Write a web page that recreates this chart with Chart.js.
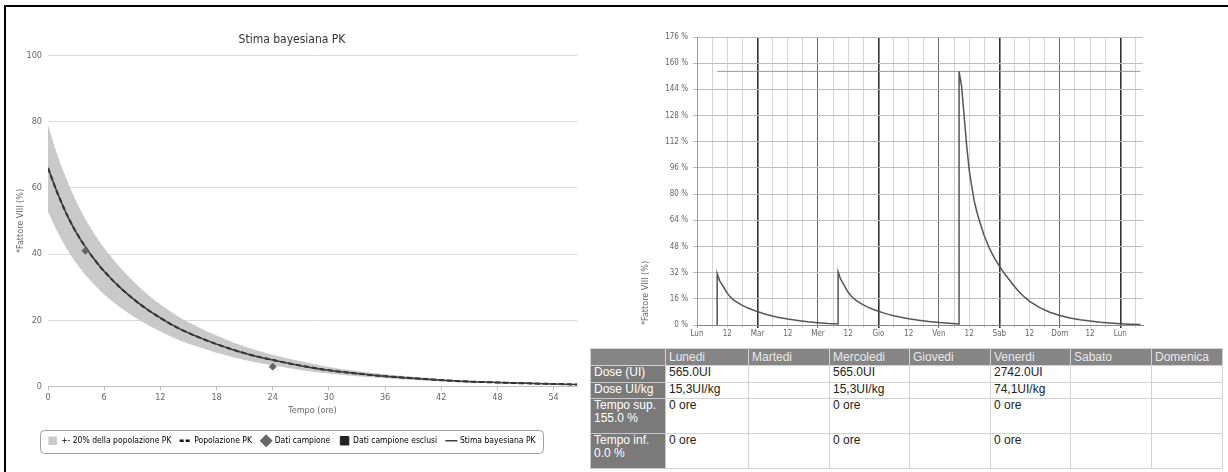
<!DOCTYPE html>
<html>
<head>
<meta charset="utf-8">
<script src="https://cdn.jsdelivr.net/npm/chart.js@4.4.0/dist/chart.umd.min.js"></script>
<style>
    body { margin: 0; background: #fff; width: 1228px; height: 472px; overflow: hidden; position: relative; }
    #cornice { position: absolute; left: 4px; top: 5px; width: 1230px; height: 480px; border-left: 2px solid #000; border-top: 2px solid #000; }
    #pkChart { position: absolute; left: 7px; top: 8px; }
    #settimanaChart { position: absolute; left: 600px; top: 8px; }
    #tabella { position: absolute; left: 590px; top: 348px; width: 632px; border-collapse: collapse; table-layout: fixed;
               font-family: "Liberation Sans", Arial, sans-serif; font-size: 12px; color: #222; }
    #tabella th, #tabella td { border: 1px solid #d2d2d2; padding: 0 3px; text-align: left; vertical-align: top;
               font-weight: normal; line-height: 13px; overflow: hidden; white-space: normal; }
    #tabella tr.testa th { background: #858585; color: #e8e8e8; height: 16px; line-height: 16px; }
    #tabella th.riga { background: #7a7a7a; color: #fff; border-color: #c8c8c8; }
</style>
</head>
<body>
<div id="cornice"></div>
<canvas id="pkChart" width="583" height="462"></canvas>
<canvas id="settimanaChart" width="622" height="340"></canvas>
<table id="tabella"></table>

<script>
// --- Stima bayesiana PK (grafico a sinistra) ---
const pkOre = [0, 1, 2, 3, 4, 5, 6, 8, 10, 12, 14, 16, 18, 20, 22, 24, 27, 30, 33, 36, 40, 44, 48, 52, 56.5];
const popolazionePK = [66, 58.5, 52, 46.6, 42.1, 38.2, 34.8, 29.1, 24.5, 20.7, 17.5, 15, 12.8, 10.9, 9.3, 8, 6.3, 4.9, 3.9, 3.1, 2.3, 1.6, 1.2, 0.9, 0.6];
const stimaBayesiana = [66, 58.5, 52, 46.6, 42.1, 38.2, 34.8, 29.1, 24.5, 20.7, 17.5, 15, 12.8, 10.9, 9.3, 8, 6.3, 4.9, 3.9, 3.1, 2.3, 1.6, 1.2, 0.9, 0.6];
const bandaAlta = [79, 70, 62.5, 56, 50.5, 45.8, 41.8, 35, 29.4, 24.8, 21, 18, 15.4, 13.1, 11.2, 9.6, 7.6, 5.9, 4.7, 3.7, 2.7, 1.9, 1.4, 1.1, 0.7];
const bandaBassa = [52.8, 46.8, 41.6, 37.3, 33.7, 30.6, 27.8, 23.3, 19.6, 16.6, 14, 12, 10.2, 8.7, 7.4, 6.4, 5, 3.9, 3.1, 2.5, 1.8, 1.3, 1, 0.7, 0.5];
const campioneOre = [4, 24];
const campioneValori = [41, 6];

// --- Profilo settimanale (grafico a destra), ore dal lunedi 0:00 ---
const settimanaOre = [8, 8, 9, 10, 11, 12, 13, 14, 15, 16, 18, 20, 22, 24, 26, 28, 30, 32, 36, 40, 44, 48, 52, 56,
    56, 57, 58, 59, 60, 61, 62, 63, 64, 66, 68, 70, 72, 74, 76, 78, 80, 84, 88, 92, 96, 100, 104,
    104, 105, 106, 107, 108, 109, 110, 111, 112, 114, 116, 118, 120, 122, 124, 126, 128, 130, 132, 136, 140, 144, 148, 152, 156, 160, 164, 168, 172, 176];
const settimanaFattore = [0, 31.5, 27, 24.5, 22, 19.5, 17.5, 16, 14.8, 13.8, 12, 10.5, 9.3, 8.2, 7.2, 6.3, 5.5, 4.8, 3.7, 2.8, 2, 1.4, 0.9, 0.6,
    32.5, 28, 25.5, 22.5, 20, 18, 16.5, 15.2, 14.2, 12.3, 10.8, 9.5, 8.4, 7.4, 6.5, 5.7, 5, 3.8, 2.9, 2.1, 1.5, 1, 0.6,
    155, 146, 128, 110, 95, 85, 76, 69.5, 64, 54.5, 47, 41, 36, 31.5, 27.5, 23.5, 20, 17, 14.5, 10.6, 7.8, 5.8, 4.3, 3.2, 2.4, 1.7, 1.2, 0.8, 0.5, 0.3];
const sogliaOre = [8, 176];
const sogliaSup = [155, 155];
const giorniAsse = ['Lun', 'Mar', 'Mer', 'Gio', 'Ven', 'Sab', 'Dom', 'Lun'];

// --- Tabella ---
const giorniTabella = ['Lunedi', 'Martedi', 'Mercoledi', 'Giovedi', 'Venerdi', 'Sabato', 'Domenica'];
const righeTabella = ['Dose (UI)', 'Dose UI/kg', 'Tempo sup. 155.0 %', 'Tempo inf. 0.0 %'];
const doseUI = ['565.0UI', '', '565.0UI', '', '2742.0UI', '', ''];
const doseKg = ['15,3UI/kg', '', '15,3UI/kg', '', '74,1UI/kg', '', ''];
const tempoSup = ['0 ore', '', '0 ore', '', '0 ore', '', ''];
const tempoInf = ['0 ore', '', '0 ore', '', '0 ore', '', ''];

Chart.defaults.font.family = "'DejaVu Sans Condensed', 'Liberation Sans Narrow', 'Roboto Condensed', 'Liberation Sans', sans-serif";
Chart.defaults.color = '#666';
Chart.defaults.animation = false;

function punti(xs, ys) {
    return xs.map((x, i) => ({ x: x, y: ys[i] }));
}

// bordo arrotondato intorno alla legenda
const bordoLegenda = {
    id: 'bordoLegenda',
    afterDraw(chart) {
        const lg = chart.legend;
        if (!lg || !lg.legendHitBoxes || !lg.legendHitBoxes.length) return;
        const hb = lg.legendHitBoxes;
        const x0 = Math.min(...hb.map(h => h.left)) - 8;
        const x1 = Math.max(...hb.map(h => h.left + h.width)) + 8;
        const y0 = hb[0].top - 7;
        const y1 = hb[0].top + hb[0].height + 7;
        const ctx = chart.ctx;
        ctx.save();
        ctx.strokeStyle = '#a0a0a0';
        ctx.lineWidth = 1;
        ctx.beginPath();
        ctx.roundRect(Math.round(x0) + 0.5, Math.round(y0) + 0.5, Math.round(x1 - x0), Math.round(y1 - y0), 4);
        ctx.stroke();
        ctx.restore();
    }
};

new Chart(document.getElementById('pkChart'), {
    type: 'line',
    data: {
        datasets: [{
            label: 'banda alta',
            data: punti(pkOre, bandaAlta),
            fill: '+1',
            backgroundColor: '#c9c9c9',
            borderWidth: 0,
            pointRadius: 0,
            cubicInterpolationMode: 'monotone',
            order: 5
        }, {
            label: 'banda bassa',
            data: punti(pkOre, bandaBassa),
            fill: false,
            borderWidth: 0,
            pointRadius: 0,
            cubicInterpolationMode: 'monotone',
            order: 5
        }, {
            label: 'Popolazione PK',
            data: punti(pkOre, popolazionePK),
            borderColor: '#111',
            borderWidth: 2,
            borderDash: [5, 3],
            pointRadius: 0,
            cubicInterpolationMode: 'monotone',
            order: 2
        }, {
            label: 'Stima bayesiana PK',
            data: punti(pkOre, stimaBayesiana),
            borderColor: '#3c3c3c',
            borderWidth: 1.5,
            pointRadius: 0,
            cubicInterpolationMode: 'monotone',
            order: 1
        }, {
            label: 'Dati campione',
            data: punti(campioneOre, campioneValori),
            showLine: false,
            pointStyle: 'rectRot',
            pointRadius: 3.5,
            backgroundColor: '#666',
            borderColor: '#666',
            order: 0
        }]
    },
    options: {
        responsive: false,
        layout: { padding: { left: 0, right: 13, top: 0, bottom: 15 } },
        plugins: {
            title: {
                display: true,
                text: 'Stima bayesiana PK',
                color: '#333',
                font: { size: 12, weight: 'normal' },
                padding: { top: 25, bottom: 8 }
            },
            legend: {
                position: 'bottom',
                labels: {
                    usePointStyle: true,
                    color: '#333',
                    font: { size: 8.5 },
                    padding: 10,
                    generateLabels: () => [
                        { text: '+- 20% della popolazione PK', fillStyle: '#c9c9c9', strokeStyle: '#c9c9c9', lineWidth: 0, pointStyle: 'rect', hidden: false },
                        { text: 'Popolazione PK', fillStyle: '#111', strokeStyle: '#111', lineWidth: 2.5, lineDash: [4, 2], pointStyle: 'line', hidden: false },
                        { text: 'Dati campione', fillStyle: '#666', strokeStyle: '#666', lineWidth: 1, pointStyle: 'rectRot', hidden: false },
                        { text: 'Dati campione esclusi', fillStyle: '#222', strokeStyle: '#222', lineWidth: 1, pointStyle: 'rect', hidden: false },
                        { text: 'Stima bayesiana PK', fillStyle: '#3c3c3c', strokeStyle: '#3c3c3c', lineWidth: 1.5, pointStyle: 'line', hidden: false }
                    ]
                }
            },
            tooltip: { enabled: false }
        },
        scales: {
            x: {
                type: 'linear',
                min: 0,
                max: 56.5,
                ticks: { stepSize: 6, includeBounds: false, maxRotation: 0, font: { size: 9 }, padding: 2 },
                grid: { drawOnChartArea: false, color: '#c0c0c0', tickLength: 4 },
                border: { color: '#c0c0c0' },
                title: { display: true, text: 'Tempo (ore)', font: { size: 9 }, padding: { top: 2, bottom: 10 } },
                afterFit: s => { s.height = 40; }
            },
            y: {
                min: 0,
                max: 100,
                ticks: { stepSize: 20, font: { size: 9 }, padding: 6 },
                grid: { color: '#d9d9d9', drawTicks: false },
                border: { display: false },
                title: { display: true, text: '*Fattore VIII (%)', font: { size: 9 }, padding: { top: 8, bottom: 0 } },
                afterFit: s => { s.width = 41; }
            }
        }
    },
    plugins: [bordoLegenda]
});

// colori delle linee verticali: giorni scuri, 6 ore chiare
function coloreGriglia(c) {
    const v = c.tick ? c.tick.value : 0;
    if (v === 0) return '#999';
    if (v % 24 === 0) return (v / 24) % 2 === 1 ? '#333' : '#6a6a6a';
    return '#d4d4d4';
}

new Chart(document.getElementById('settimanaChart'), {
    type: 'line',
    data: {
        datasets: [{
            label: 'Fattore VIII',
            data: punti(settimanaOre, settimanaFattore),
            borderColor: '#555',
            borderWidth: 1.5,
            pointRadius: 0,
            tension: 0
        }, {
            label: 'Soglia sup.',
            data: punti(sogliaOre, sogliaSup),
            borderColor: '#999',
            borderWidth: 1,
            pointRadius: 0
        }]
    },
    options: {
        responsive: false,
        layout: { padding: { left: 0, right: 79, top: 29, bottom: 0 } },
        plugins: { legend: { display: false }, tooltip: { enabled: false } },
        scales: {
            x: {
                type: 'linear',
                min: 0,
                max: 177,
                ticks: {
                    stepSize: 6,
                    includeBounds: false,
                    autoSkip: false,
                    maxRotation: 0,
                    font: { size: 8 },
                    padding: 1,
                    callback: v => v % 24 === 0 ? giorniAsse[v / 24] : (v % 12 === 0 ? '12' : '')
                },
                grid: {
                    color: coloreGriglia,
                    lineWidth: c => (c.tick && c.tick.value % 24 === 0 && (c.tick.value / 24) % 2 === 1) ? 1.6 : 1,
                    tickLength: 3
                },
                border: { color: '#888' },
                afterFit: s => { s.height = 23; }
            },
            y: {
                min: 0,
                max: 176,
                ticks: { stepSize: 16, font: { size: 8 }, padding: 5, callback: v => v + ' %' },
                grid: { color: '#bdbdbd', tickLength: 4 },
                border: { color: '#999' },
                title: { display: true, text: '*Fattore VIII (%)', align: 'start', font: { size: 9 }, padding: { top: 40, bottom: 0 } },
                afterFit: s => { s.width = 97; }
            }
        }
    }
});

// tabella dosi
const tab = document.getElementById('tabella');
const larghezze = [75, 83, 81, 80, 81, 80, 81, 71];
let html = '<colgroup>' + larghezze.map(w => '<col style="width:' + w + 'px">').join('') + '</colgroup>';
html += '<tr class="testa"><th></th>' + giorniTabella.map(g => '<th>' + g + '</th>').join('') + '</tr>';
const valori = [doseUI, doseKg, tempoSup, tempoInf];
const altezze = [17, 16, 35, 35];
righeTabella.forEach((r, i) => {
    html += '<tr style="height:' + altezze[i] + 'px"><th class="riga">' + r + '</th>' +
        valori[i].map(v => '<td>' + v + '</td>').join('') + '</tr>';
});
tab.innerHTML = html;
</script>
</body>
</html>
